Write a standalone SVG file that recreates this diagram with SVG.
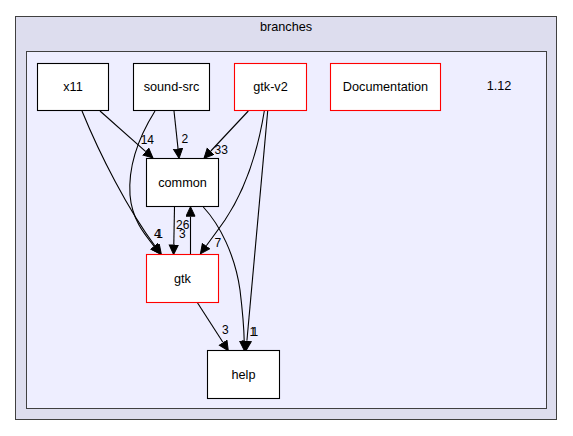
<svg xmlns="http://www.w3.org/2000/svg" width="573" height="436" viewBox="0 0 573 436">
<style>
text{font-family:"Liberation Sans",Arial,sans-serif;fill:#000}
.nl{font-size:12.7px;text-anchor:middle}
.el{font-size:12px}
.box{fill:#fff;stroke:#000;stroke-width:1.1}
.red{stroke:#ff0000}
.edge{fill:none;stroke:#000;stroke-width:1.1}
</style>
<defs>
<marker id="ah" markerUnits="userSpaceOnUse" markerWidth="13" markerHeight="12" refX="0" refY="5" orient="auto">
<polygon points="0.5,0.5 10,5 0.5,9.5" fill="#000" stroke="#000" stroke-width="1"/>
</marker>
</defs>
<g id="cluster-branches">
<rect x="15.5" y="16.5" width="541" height="403" fill="#ddddee" stroke="#404040"/>
<text x="286" y="31" class="nl">branches</text>
</g>
<g id="cluster-1.12">
<rect x="26.5" y="51.5" width="520" height="357" fill="#eeeeff" stroke="#404040"/>
<text x="499" y="90" class="nl">1.12</text>
</g>
<g id="edges">
<path class="edge" marker-end="url(#ah)" d="M174,111 L178,148.4"/>
<path class="edge" marker-end="url(#ah)" d="M100,111 L145.5,151.4"/>
<path class="edge" marker-end="url(#ah)" d="M248.3,111 L210.8,151"/>
<path class="edge" marker-end="url(#ah)" d="M82,111 C100,155 128,210 155.4,246.5"/>
<path class="edge" marker-end="url(#ah)" d="M155,111 C140,135 128,165 130,195 C132,220 145,235 154,246"/>
<path class="edge" marker-end="url(#ah)" d="M174.5,207 L173.8,244.5"/>
<path class="edge" marker-end="url(#ah)" d="M190.5,254.5 L190.5,216.7"/>
<path class="edge" marker-end="url(#ah)" d="M264.3,111 C258,150 245,190 225,220 C218,230 212,238 206.3,245.8"/>
<path class="edge" marker-end="url(#ah)" d="M267.7,111 L246.9,340.7"/>
<path class="edge" marker-end="url(#ah)" d="M203.3,207 C220,225 235,255 240,290 C243,315 244,330 244.2,340.7"/>
<path class="edge" marker-end="url(#ah)" d="M197.3,302.5 L222.9,342.3"/>
<text class="el" x="181.5" y="143.3">2</text>
<text class="el" x="140.7" y="144">14</text>
<text class="el" x="214.5" y="154">33</text>
<text class="el" x="154" y="237.5">4</text>
<text class="el" x="156.3" y="237.5">1</text>
<text class="el" x="179" y="238.3">3</text>
<text class="el" x="176" y="228.5">26</text>
<text class="el" x="214.5" y="247.3">7</text>
<text class="el" x="249.5" y="335.5">1</text>
<text class="el" x="251.5" y="335.5">1</text>
<text class="el" x="222" y="334.3">3</text>
</g>
<g id="node-x11">
<rect class="box" x="37.5" y="63.5" width="71" height="47"/>
<text x="73" y="91" class="nl">x11</text>
</g>
<g id="node-sound-src">
<rect class="box" x="133.5" y="63.5" width="76" height="47"/>
<text x="171.5" y="91" class="nl">sound-src</text>
</g>
<g id="node-gtk-v2">
<rect class="box red" x="234.5" y="63.5" width="72" height="47"/>
<text x="270.5" y="91" class="nl">gtk-v2</text>
</g>
<g id="node-Documentation">
<rect class="box red" x="330.5" y="63.5" width="110" height="47"/>
<text x="385.5" y="91" class="nl">Documentation</text>
</g>
<g id="node-common">
<rect class="box" x="146.5" y="158.5" width="72" height="48"/>
<text x="182.5" y="187" class="nl">common</text>
</g>
<g id="node-gtk">
<rect class="box red" x="146.5" y="254.5" width="72" height="48"/>
<text x="182.5" y="283" class="nl">gtk</text>
</g>
<g id="node-help">
<rect class="box" x="207.5" y="350.5" width="72" height="48"/>
<text x="243.5" y="379" class="nl">help</text>
</g>
</svg>
